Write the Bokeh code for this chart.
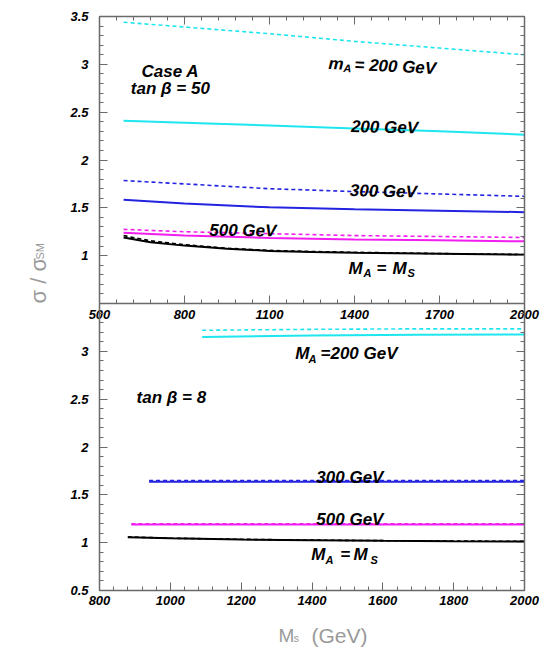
from bokeh.plotting import figure
from bokeh.models import Range1d, LinearAxis, FixedTicker, ColumnDataSource, CustomJSTickFormatter
from bokeh.embed import file_html
from bokeh.resources import INLINE
from bokeh.core.properties import value
import math

# ---------------- data: top panel (tan beta = 50), x = M_S (GeV) ----------------
ms_50 = [585, 800, 1100, 1400, 1700, 2000]
cyan_dash_50 = [3.44, 3.39, 3.32, 3.24, 3.17, 3.10]
cyan_solid_50 = [2.41, 2.39, 2.36, 2.33, 2.30, 2.265]
blue_dash_50 = [1.785, 1.75, 1.70, 1.67, 1.645, 1.62]
blue_solid_50 = [1.585, 1.545, 1.505, 1.485, 1.47, 1.455]
mag_dash_50 = [1.275, 1.25, 1.23, 1.21, 1.20, 1.19]
mag_solid_50 = [1.24, 1.21, 1.185, 1.17, 1.16, 1.15]
ms_50_black = [585, 680, 800, 950, 1100, 1250, 1400, 1700, 2000]
black_solid_50 = [1.19, 1.14, 1.105, 1.072, 1.05, 1.039, 1.03, 1.02, 1.01]
black_dash_50 = [1.21, 1.155, 1.115, 1.078, 1.055, 1.043, 1.035, 1.022, 1.012]

# ---------------- data: bottom panel (tan beta = 8) ----------------
ms_8_cyan = [1090, 1400, 1700, 2000]
cyan_dash_8 = [3.22, 3.23, 3.235, 3.235]
cyan_solid_8 = [3.15, 3.165, 3.173, 3.177]
ms_8_blue = [940, 1400, 2000]
blue_dash_8 = [1.648, 1.648, 1.648]
blue_solid_8 = [1.636, 1.636, 1.636]
ms_8_mag = [890, 1400, 2000]
mag_dash_8 = [1.196, 1.196, 1.196]
mag_solid_8 = [1.190, 1.190, 1.190]
ms_8_black = [880, 1000, 1200, 1400, 1600, 1800, 2000]
black_solid_8 = [1.057, 1.045, 1.033, 1.025, 1.019, 1.015, 1.012]
black_dash_8 = [1.060, 1.047, 1.035, 1.027, 1.021, 1.017, 1.014]

# ---------------- ticks ----------------
top_x_ticks = [500, 800, 1100, 1400, 1700, 2000]
top_x_minor = [500 + 60 * i for i in range(26)]
bot_x_ticks = [800, 1000, 1200, 1400, 1600, 1800, 2000]
bot_x_minor = [800 + 40 * i for i in range(31)]
bot_y_ticks = [0.5, 1.0, 1.5, 2.0, 2.5, 3.0]
top_y_ticks = [1.0, 1.5, 2.0, 2.5, 3.0, 3.5]
all_y_major = [0.5 + 0.5 * i for i in range(13)]
all_y_minor = [round(0.5 + 0.1 * i, 2) for i in range(61)]

# ---------------- layout (canvas pixels) ----------------
W, H = 544, 656
FL, FR, FT, FB = 99, 524, 16, 590          # outer box of the two panels
PANEL_H = (FB - FT) / 2.0
kx_bot = (2000 - 800) / (FR - FL)
kx_top = (2000 - 500) / (FR - FL)
ky = 3.0 / PANEL_H

xr_bot = Range1d(800 - FL * kx_bot, 2000 + (W - FR) * kx_bot)
xr_top = Range1d(500 - FL * kx_top, 2000 + (W - FR) * kx_top)
yr_bot = Range1d(0.5 - (H - FB) * ky, 6.5 + FT * ky)
yr_top = Range1d(yr_bot.start - 3.0, yr_bot.end - 3.0)

CYAN = "#1ee6ef"
BLUE = "#2323e0"
MAG = "#f21ef0"
BLACK = "#000000"
AX = "#6a6a6a"
FONT = "Liberation Sans"
GREY = "#9a9a9a"

p = figure(width=W, height=H, x_range=xr_bot, y_range=yr_bot,
           x_axis_type=None, y_axis_type=None,
           output_backend="svg", toolbar_location=None,
           min_border=0, min_border_left=0, min_border_right=0,
           min_border_top=0, min_border_bottom=0)
p.extra_x_ranges = {"top": xr_top}
p.extra_y_ranges = {"top": yr_top}
p.outline_line_color = None
p.background_fill_color = "white"
p.border_fill_color = "white"

fmt = CustomJSTickFormatter(code="return String(tick)")


def style(ax, labels=True, standoff=5):
    ax.axis_line_color = AX
    ax.axis_line_width = 1.5
    ax.major_tick_line_color = AX
    ax.minor_tick_line_color = AX
    ax.major_tick_line_width = 1
    ax.minor_tick_line_width = 1
    ax.major_tick_in = 8
    ax.major_tick_out = 0
    ax.minor_tick_in = 4
    ax.minor_tick_out = 0
    ax.formatter = fmt
    ax.major_label_text_font = FONT
    ax.major_label_text_font_style = "bold italic"
    ax.major_label_text_font_size = "13px"
    ax.major_label_text_color = "black"
    ax.major_label_standoff = standoff
    if not labels:
        ax.major_label_text_alpha = 0


# bottom edge of lower panel
ax_b = LinearAxis(ticker=FixedTicker(ticks=bot_x_ticks, minor_ticks=bot_x_minor),
                  fixed_location=0.5, bounds=(800, 2000))
style(ax_b, standoff=5)
p.add_layout(ax_b, "below")

# boundary between panels = bottom axis of the upper panel
ax_m = LinearAxis(x_range_name="top", ticker=FixedTicker(ticks=top_x_ticks, minor_ticks=top_x_minor),
                  fixed_location=3.5, bounds=(500, 2000))
style(ax_m, standoff=6)
p.add_layout(ax_m, "below")

# top edge of upper panel
ax_t = LinearAxis(x_range_name="top", ticker=FixedTicker(ticks=top_x_ticks, minor_ticks=top_x_minor),
                  fixed_location=6.5, bounds=(500, 2000))
style(ax_t, labels=False)
p.add_layout(ax_t, "above")

# left edge: lower panel scale and upper panel scale
ax_l = LinearAxis(ticker=FixedTicker(ticks=bot_y_ticks, minor_ticks=all_y_minor),
                  fixed_location=800, bounds=(0.5, 6.5))
style(ax_l, standoff=11)
p.add_layout(ax_l, "left")

ax_l2 = LinearAxis(y_range_name="top", ticker=FixedTicker(ticks=top_y_ticks, minor_ticks=[]),
                   fixed_location=800, bounds=(0.5, 3.5))
style(ax_l2, standoff=11)
ax_l2.axis_line_color = None
p.add_layout(ax_l2, "left")

# right edge
ax_r = LinearAxis(ticker=FixedTicker(ticks=all_y_major, minor_ticks=all_y_minor),
                  fixed_location=2000, bounds=(0.5, 6.5))
style(ax_r, labels=False)
p.add_layout(ax_r, "right")

# ---------------- curves ----------------
T = dict(x_range_name="top", y_range_name="top")
DASH = "4 3"
p.line(ms_50, cyan_dash_50, line_color=CYAN, line_dash=DASH, line_width=1.6, **T)
p.line(ms_50, cyan_solid_50, line_color=CYAN, line_width=2, **T)
p.line(ms_50, blue_dash_50, line_color=BLUE, line_dash=DASH, line_width=1.6, **T)
p.line(ms_50, blue_solid_50, line_color=BLUE, line_width=2, **T)
p.line(ms_50, mag_dash_50, line_color=MAG, line_dash=DASH, line_width=1.6, **T)
p.line(ms_50, mag_solid_50, line_color=MAG, line_width=2, **T)
p.line(ms_50_black, black_dash_50, line_color=BLACK, line_dash=DASH, line_width=1.6, **T)
p.line(ms_50_black, black_solid_50, line_color=BLACK, line_width=2, **T)

p.line(ms_8_cyan, cyan_dash_8, line_color=CYAN, line_dash=DASH, line_width=1.6)
p.line(ms_8_cyan, cyan_solid_8, line_color=CYAN, line_width=2)
p.line(ms_8_blue, blue_dash_8, line_color=BLUE, line_dash=DASH, line_width=1.6)
p.line(ms_8_blue, blue_solid_8, line_color=BLUE, line_width=2)
p.line(ms_8_mag, mag_dash_8, line_color=MAG, line_dash=DASH, line_width=1.6)
p.line(ms_8_mag, mag_solid_8, line_color=MAG, line_width=2)
p.line(ms_8_black, black_dash_8, line_color=BLACK, line_dash=DASH, line_width=1.6)
p.line(ms_8_black, black_solid_8, line_color=BLACK, line_width=2)

# ---------------- annotations inside the panels ----------------
top_txt = dict(
    x=[750, 750, 1308, 1361, 1400, 1506, 1502, 1006, 1379, 1432, 1478, 1534, 1587],
    y=[2.928, 2.744, 3.009, 2.962, 2.996, 2.343, 1.674, 1.263, 0.866, 0.819, 0.866, 0.866, 0.819],
    text=["Case A", "tan \u03b2 = 50", "m", "A", "= 200 GeV", "200 GeV", "300 GeV", "500 GeV",
          "M", "A", "=", "M", "S"],
    size=["17px", "17px", "17px", "11px", "17px", "17px", "17px", "17px",
          "17px", "11px", "17px", "17px", "11px"],
    align=["center", "center", "left", "left", "left", "center", "center", "center",
           "left", "left", "left", "left", "left"],
    angle=[0, 0, -0.045, -0.045, -0.045, -0.02, -0.02, -0.01, 0, 0, 0, 0, 0],
)
p.text(x="x", y="y", text="text", text_font_size="size", text_align="align", angle="angle",
       source=ColumnDataSource(top_txt), text_font=value(FONT), text_font_style="bold italic",
       text_baseline="alphabetic", text_color="black", **T)

bot_txt = dict(
    x=[1353, 1390, 1424, 1003, 1507, 1507, 1398, 1438, 1480, 1517, 1565],
    y=[2.974, 2.920, 2.974, 2.514, 1.684, 1.239, 0.876, 0.824, 0.876, 0.876, 0.824],
    text=["M", "A", "=200 GeV", "tan \u03b2 = 8", "300 GeV", "500 GeV", "M", "A", "=", "M", "S"],
    size=["17px", "11px", "17px", "17px", "17px", "17px", "17px", "11px", "17px", "17px", "11px"],
    align=["left", "left", "left", "center", "center", "center", "left", "left", "left", "left", "left"],
)
p.text(x="x", y="y", text="text", text_font_size="size", text_align="align",
       source=ColumnDataSource(bot_txt), text_font=value(FONT), text_font_style="bold italic",
       text_baseline="alphabetic", text_color="black")


# ---------------- axis titles (positioned in canvas pixels) ----------------
def sx(px):
    return xr_bot.start + px * kx_bot


def sy(py):
    return yr_bot.end - py * ky


title_txt = dict(
    x=[sx(38), sx(39), sx(278), sx(293), sx(311)],
    y=[sy(303), sy(259), sy(635), sy(637), sy(635)],
    text=["\u03c3 / \u03c3", "SM", "M", "s", "(GeV)"],
    size=["22px", "11px", "19px", "11px", "21px"],
    angle=[math.pi / 2, math.pi / 2, 0, 0, 0],
)
p.text(x="x", y="y", text="text", text_font_size="size", angle="angle",
       source=ColumnDataSource(title_txt), text_font=value(FONT), text_color=GREY,
       text_align="left", text_baseline="alphabetic")

open("out.html", "w").write(file_html(p, INLINE))
